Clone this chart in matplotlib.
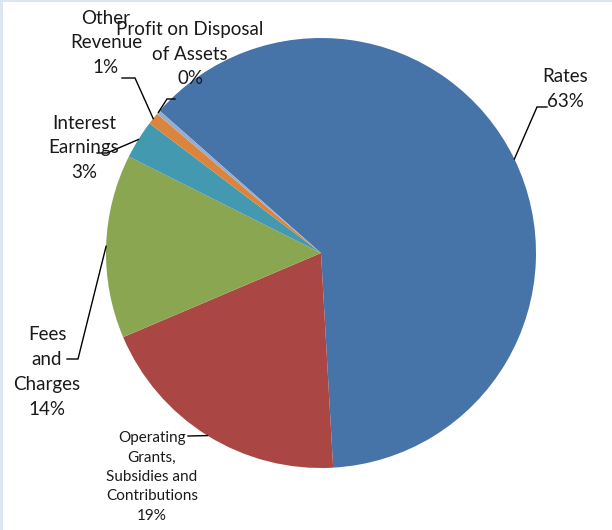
import matplotlib
matplotlib.use('Agg')
import matplotlib.pyplot as plt
import numpy as np
from matplotlib.patches import Rectangle

categories = ['Rates', 'Operating Grants, Subsidies and Contributions', 'Fees and Charges',
              'Interest Earnings', 'Other Revenue', 'Profit on Disposal of Assets']
values = [62.6, 19.5, 13.8, 2.9, 0.9, 0.3]
label_texts = ['Rates\n63%', 'Operating\nGrants,\nSubsidies and\nContributions\n19%',
               'Fees\nand\nCharges\n14%', 'Interest\nEarnings\n3%', 'Other\nRevenue\n1%',
               'Profit on Disposal\nof Assets\n0%']
colors = ['#4673A8', '#AA4744', '#8BA650', '#4299B0', '#DB843D', '#95ACD1']

W, H = 612, 530
fig = plt.figure(figsize=(6.12, 5.3), dpi=100)
ax = fig.add_axes([0, 0, 1, 1])
cx, cy, R = 321, 530 - 253, 215
wedges, _ = ax.pie(values, colors=colors, startangle=138.6, counterclock=False,
                   center=(cx, cy), radius=R, frame=True,
                   wedgeprops=dict(linewidth=0))
ax.set_xlim(0, W)
ax.set_ylim(0, H)
ax.set_aspect('equal')
ax.axis('off')

# layout: text center (x, y from top), fontsize, linespacing, elbow, end (y from top)
layout = [
    dict(xy=(565, 89), fs=13.5, ls=1.55, elbow=(537, 107), end=(547, 107)),
    dict(xy=(152, 477), fs=11, ls=1.5, elbow=(188, 436), end=(188, 436)),
    dict(xy=(47, 372), fs=13.5, ls=1.55, elbow=(78, 359), end=(67, 359)),
    dict(xy=(84, 148), fs=13.5, ls=1.55, elbow=(107, 153), end=(97, 153)),
    dict(xy=(106, 43), fs=13.5, ls=1.55, elbow=(135, 78), end=(122, 78)),
    dict(xy=(190, 54), fs=13.5, ls=1.55, elbow=(167, 99), end=(175, 99)),
]

for w, txt, lay in zip(wedges, label_texts, layout):
    mid = np.deg2rad((w.theta1 + w.theta2) / 2)
    sx, sy = cx + R * np.cos(mid), cy + R * np.sin(mid)
    ex, ey = lay['elbow']
    nx, ny = lay['end']
    ax.plot([sx, ex, nx], [sy, H - ey, H - ny], color='black', lw=1.0,
            solid_joinstyle='miter', zorder=3)
    ax.text(lay['xy'][0], H - lay['xy'][1], txt, ha='center', va='center',
            fontsize=lay['fs'], family='Lato', linespacing=lay['ls'],
            color='#1a1a1a', zorder=4)

fig.patches.append(Rectangle((0, 0), 3 / W, 1, transform=fig.transFigure,
                             facecolor='#DCE6F2', edgecolor='none'))
fig.patches.append(Rectangle((0, 1 - 2 / H), 1, 2 / H, transform=fig.transFigure,
                             facecolor='#DCE6F2', edgecolor='none'))

fig.savefig('out.png', dpi=100)
